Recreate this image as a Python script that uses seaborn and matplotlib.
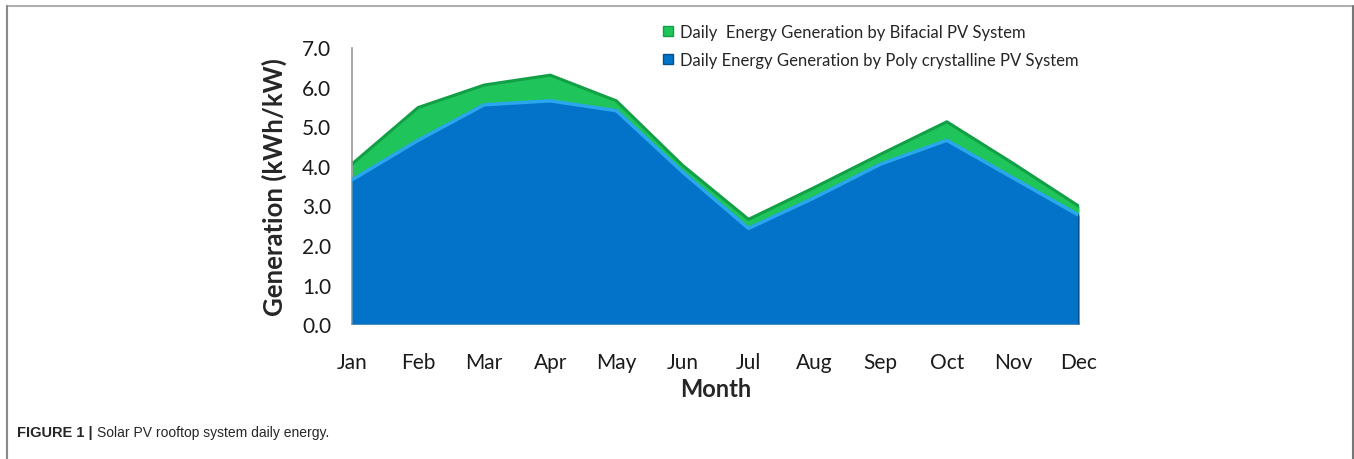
import matplotlib
matplotlib.use("Agg")
import matplotlib.pyplot as plt
from matplotlib.lines import Line2D
from matplotlib.patches import Patch
import pandas as pd
import seaborn as sns

# Values (kWh/kW per day)
months = ["Jan", "Feb", "Mar", "Apr", "May", "Jun",
          "Jul", "Aug", "Sep", "Oct", "Nov", "Dec"]
poly = [3.65, 4.65, 5.55, 5.65, 5.40, 3.85, 2.42, 3.20, 4.05, 4.65, 3.70, 2.75]
bifacial = [4.05, 5.48, 6.05, 6.30, 5.65, 4.02, 2.65, 3.46, 4.30, 5.12, 4.07, 2.98]

bifacial_label = "Daily  Energy Generation by Bifacial PV System"
poly_label = "Daily Energy Generation by Poly crystalline PV System"

BLUE = "#0273c9"
BLUE_EDGE = "#2aa6ec"
GREEN = "#1fc45a"
GREEN_EDGE = "#12a046"
W, H = 1354, 460

df = pd.DataFrame({"month": months, "poly": poly, "bifacial": bifacial})
df["x"] = range(len(df))

sns.set_style("white")
plt.rcParams["font.family"] = ["Lato", "DejaVu Sans"]

fig = plt.figure(figsize=(W / 100, H / 100), dpi=100)
ax = fig.add_axes([352 / W, 1 - 325 / H, (1079 - 352) / W, (325 - 48.5) / H])

# green (bifacial) behind, blue (poly) in front
ax.fill_between(df["x"], 0, df["bifacial"], color=GREEN, lw=0, zorder=1)
sns.lineplot(data=df, x="x", y="bifacial", color=GREEN_EDGE, lw=2.2, ax=ax, zorder=2)
ax.fill_between(df["x"], 0, df["poly"], color=BLUE, lw=0, zorder=3)
sns.lineplot(data=df, x="x", y="poly", color=BLUE_EDGE, lw=2.5, ax=ax, zorder=4)
ax.plot([df["x"].iloc[-1]] * 2, [0, df["poly"].iloc[-1]], color="#0a4f8a", lw=1.5, zorder=5)

ax.set_xlim(0, len(months) - 1)
ax.set_ylim(0, 7)
ax.set_xticks(df["x"])
ax.set_xticklabels(months)
ax.set_yticks([i for i in range(8)])
ax.set_yticklabels([f"{i:.1f}" for i in range(8)])

for side in ["top", "right"]:
    ax.spines[side].set_visible(False)
for side in ["left", "bottom"]:
    ax.spines[side].set_color("#9a9a9a")
    ax.spines[side].set_linewidth(1.2)
ax.tick_params(axis="both", which="major", direction="out", length=5, width=1.2,
               color="#9a9a9a", labelsize=15, labelcolor="#1a1a1a")
ax.tick_params(axis="x", pad=15)
ax.tick_params(axis="y", pad=10)

ax.set_xlabel("Month", fontsize=17, fontweight="bold", labelpad=4)
ax.set_ylabel("Generation (kWh/kW)", fontsize=18.5, fontweight="bold", labelpad=11)

handles = [
    Patch(facecolor=GREEN, edgecolor=GREEN_EDGE, label=bifacial_label),
    Patch(facecolor=BLUE, edgecolor="#0a4f8a", label=poly_label),
]
fig.legend(handles=handles, loc="upper left", bbox_to_anchor=(655 / W, 1 - 17 / H),
           frameon=False, fontsize=12, handlelength=0.55, handleheight=0.55,
           handletextpad=0.45, labelspacing=0.72, borderpad=0)

# caption and outer frame
fig.text(17 / W, 1 - 433 / H, "FIGURE 1 |", fontsize=10.5, fontweight="bold",
         family="Liberation Sans", va="center", ha="left")
fig.text(97 / W, 1 - 433 / H, "Solar PV rooftop system daily energy.", fontsize=10,
         family="Liberation Sans", va="center", ha="left")

fig.add_artist(Line2D([7 / W, 1352.5 / W], [1 - 7 / H] * 2, color="#b0b0b0", lw=1.5))
fig.add_artist(Line2D([1352.5 / W] * 2, [0, 1 - 7 / H], color="#777777", lw=1.5))
fig.add_artist(Line2D([7 / W] * 2, [0, 1 - 7 / H], color="#8a8a8a", lw=1.5))

fig.savefig("out.png", dpi=100)
